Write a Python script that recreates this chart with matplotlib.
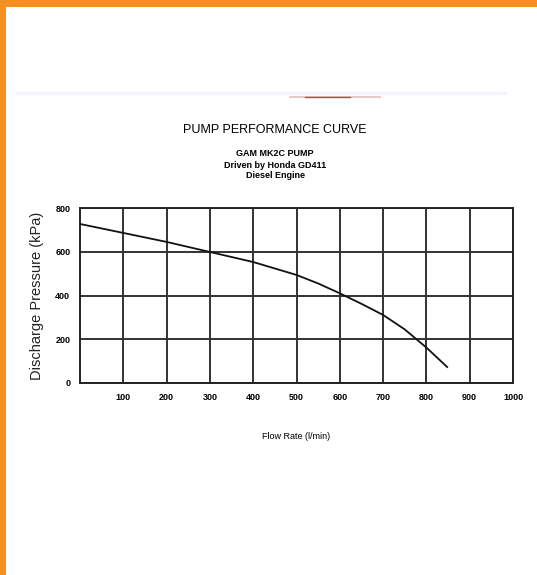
import numpy as np
import matplotlib.pyplot as plt
from matplotlib.lines import Line2D
from matplotlib.patches import Rectangle

# values
flow = [0, 100, 200, 300, 400, 500, 550, 600, 650, 700, 750, 800, 848]
pressure = [727, 686, 645, 599, 553, 494, 455, 410, 362, 311, 245, 162, 73]

x_ticks = [100, 200, 300, 400, 500, 600, 700, 800, 900, 1000]
y_ticks = [0, 200, 400, 600, 800]

title = 'PUMP PERFORMANCE CURVE'
subtitle = ['GAM MK2C PUMP', 'Driven by Honda GD411', 'Diesel Engine']

font = ['Liberation Sans Narrow', 'Liberation Sans', 'DejaVu Sans']
plt.rcParams['font.family'] = font

W, H = 537, 575


def make_plot(out_path=None):
    fig = plt.figure(figsize=(W / 100, H / 100), dpi=100)
    fig.patch.set_facecolor('white')

    # orange frame on top and left
    fig.add_artist(Rectangle((0, 1 - 7 / H), 1, 7 / H, transform=fig.transFigure,
                             color='#f7901e', lw=0))
    fig.add_artist(Rectangle((0, 0), 6 / W, 1, transform=fig.transFigure,
                             color='#f7901e', lw=0))
    # faint scan line with a reddish smear
    fig.add_artist(Line2D([17 / W, 505 / W], [1 - 93 / H] * 2, transform=fig.transFigure,
                          color='#f3f6fa', lw=2.5))
    fig.add_artist(Line2D([290 / W, 380 / W], [1 - 97 / H] * 2, transform=fig.transFigure,
                          color='#d9a8a0', lw=1.2, alpha=0.7))
    fig.add_artist(Line2D([305 / W, 350 / W], [1 - 97 / H] * 2, transform=fig.transFigure,
                          color='#8a2a1a', lw=1.0, alpha=0.75))

    ax = fig.add_axes([80 / W, 1 - 383 / H, 433 / W, 175 / H])
    ax.plot(flow, pressure, color='#111111', lw=1.3, zorder=3)
    ax.set_xlim(0, 1000)
    ax.set_ylim(0, 800)
    ax.set_xticks(x_ticks)
    ax.set_yticks(y_ticks)
    ax.set_xticklabels([str(v) for v in x_ticks], fontsize=6.5, fontweight='bold')
    ax.set_yticklabels([str(v) for v in y_ticks], fontsize=6.5, fontweight='bold')
    ax.tick_params(length=0, pad=7)
    ax.grid(True, color='#333333', lw=1.4)
    for s in ax.spines.values():
        s.set_color('#222222')
        s.set_linewidth(1.4)

    ax.set_ylabel('Discharge Pressure (kPa)', fontsize=10.5, labelpad=8, color='#222222')
    ax.set_xlabel('Flow Rate (l/min)', fontsize=6.5, labelpad=22)

    fig.text(275 / W, 1 - 130 / H, title, ha='center', va='center', fontsize=9)
    for i, line in enumerate(subtitle):
        fig.text(275 / W, 1 - (154 + 11 * i) / H, line, ha='center', va='center',
                 fontsize=6.5, fontweight='bold')

    if out_path:
        fig.savefig(out_path, dpi=100)
    return fig


if __name__ == '__main__':
    make_plot('out.png')
